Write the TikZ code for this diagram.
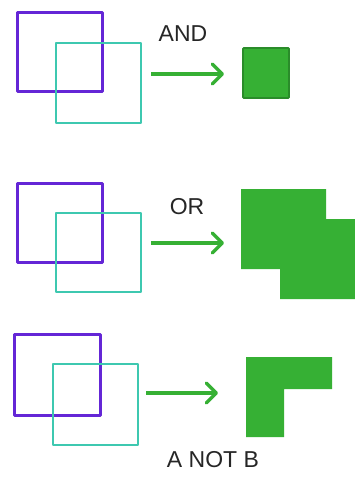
\documentclass[tikz,border=0pt]{standalone}
\usepackage{fontspec}
\setmainfont{Liberation Sans}
\usetikzlibrary{arrows.meta}
\definecolor{setA}{HTML}{6426D6}
\definecolor{setB}{HTML}{3EC8B0}
\definecolor{result}{HTML}{36B034}
\definecolor{resultedge}{HTML}{2A8C2A}
\tikzset{
  seta/.style={draw=setA, line width=3pt, line join=round},
  setb/.style={draw=setB, line width=2.9pt, line join=round},
  maps/.style={draw=result, line width=3.6pt,
    -{Straight Barb[length=10pt, width=20pt, line width=3.4pt, round]}},
  oplabel/.style={font=\fontsize{23}{25}\selectfont, text=black!85, inner sep=0pt},
  fillres/.style={fill=result, draw=none}
}
\begin{document}
\begin{tikzpicture}[x=1pt, y=-1pt]
\useasboundingbox (0,0) rectangle (355,481);
\fill[white] (0,0) rectangle (355,481);

% --- AND ---
\draw[seta] (17,13) rectangle (102,92);
\draw[setb] (56,43) rectangle (141,123);
\node[oplabel] (andlbl) at (183,34) {AND};
\coordinate (and1) at (151,74);
\coordinate (and2) at (224,74);
\draw[maps] (and1) -- (and2);
\draw[fill=result, draw=resultedge, line width=1.8pt, rounded corners=1pt] (243,48) rectangle (289,98);

% --- OR ---
\draw[seta] (17,183) rectangle (102,262);
\draw[setb] (56,213) rectangle (141,292);
\node[oplabel] (orlbl) at (187,207) {OR};
\coordinate (or1) at (151,243);
\coordinate (or2) at (224,243);
\draw[maps] (or1) -- (or2);
\fill[fillres] (241,189) -- (326,189) -- (326,219) -- (355,219) -- (355,299)
  -- (280,299) -- (280,269) -- (241,269) -- cycle;

% --- A NOT B ---
\draw[seta] (14,334) rectangle (100,415);
\draw[setb] (53,364) rectangle (138,445);
\coordinate (not1) at (146,393);
\coordinate (not2) at (218,393);
\draw[maps] (not1) -- (not2);
\fill[fillres] (246,357) -- (332,357) -- (332,389) -- (284,389) -- (284,437)
  -- (246,437) -- cycle;
\node[oplabel] (notlbl) at (213,460) {A NOT B};
\end{tikzpicture}
\end{document}
